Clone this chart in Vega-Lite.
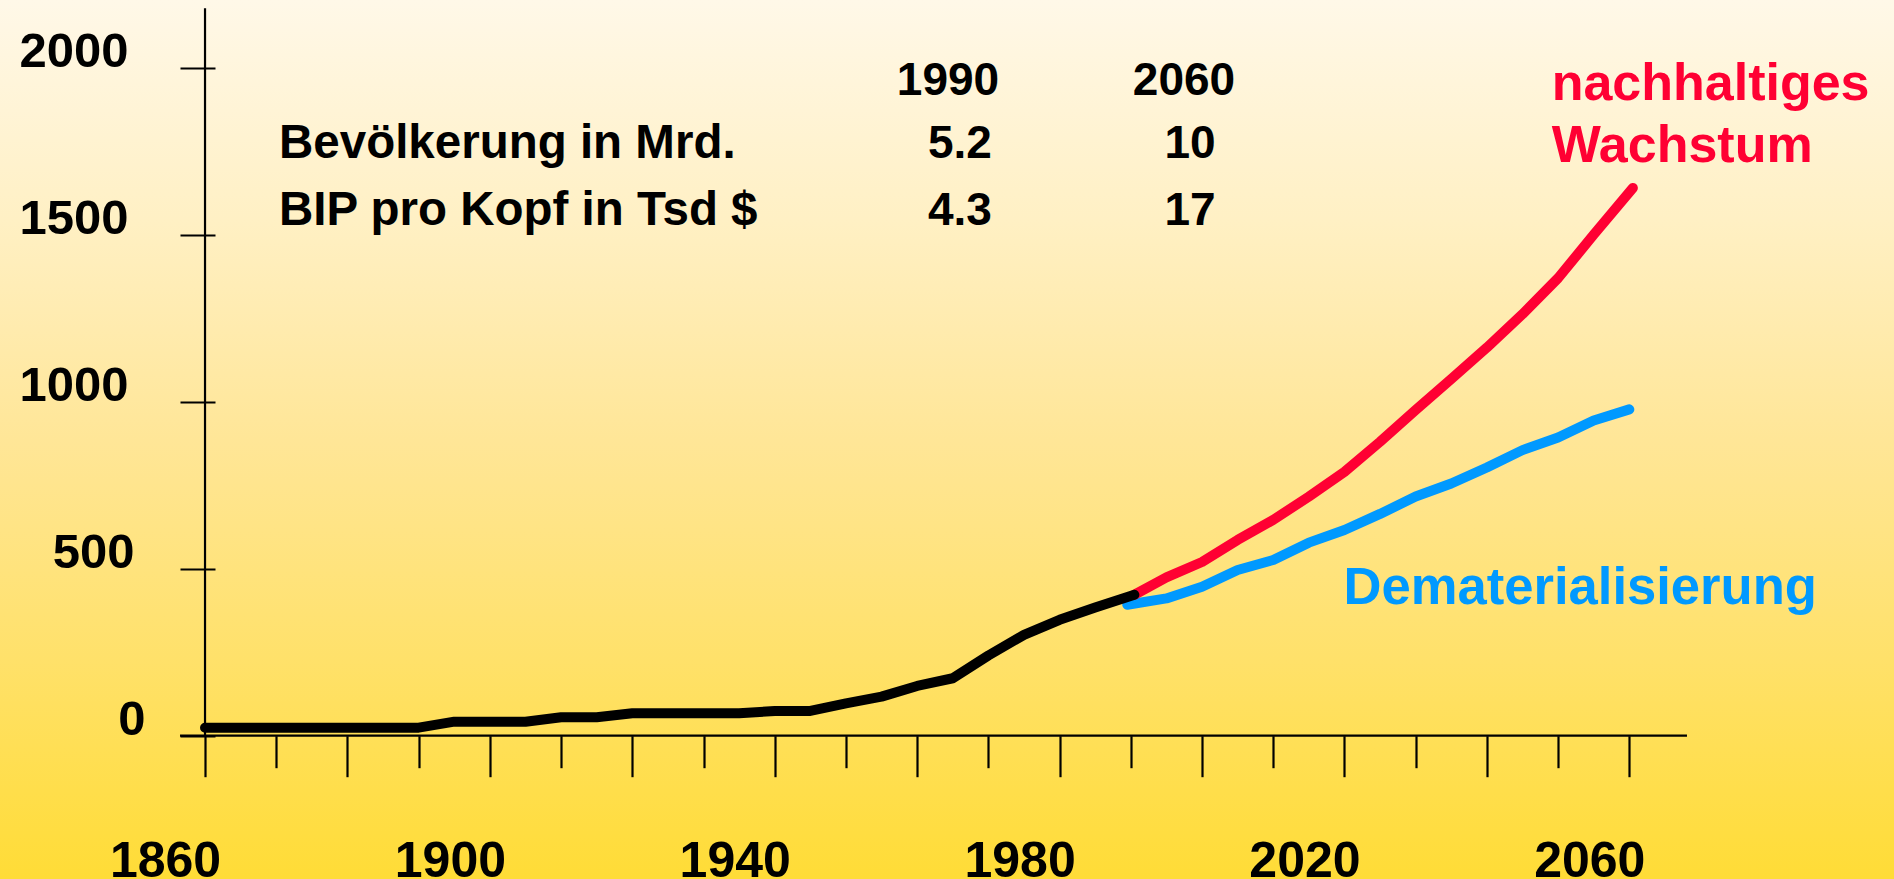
{
  "$schema": "https://vega.github.io/schema/vega-lite/v6.json",
  "width": 1894,
  "height": 879,
  "padding": 0,
  "autosize": {"type": "none"},
  "background": "#FFE89A",
  "config": {"view": {"stroke": null}, "font": "Liberation Sans"},
  "datasets": {
    "one": [{}],
    "series": [
      {"series": "historisch", "year": 1860, "value": 24},
      {"series": "historisch", "year": 1890, "value": 24},
      {"series": "historisch", "year": 1895, "value": 42},
      {"series": "historisch", "year": 1905, "value": 42},
      {"series": "historisch", "year": 1910, "value": 55},
      {"series": "historisch", "year": 1915, "value": 55},
      {"series": "historisch", "year": 1920, "value": 67},
      {"series": "historisch", "year": 1935, "value": 67},
      {"series": "historisch", "year": 1940, "value": 74},
      {"series": "historisch", "year": 1945, "value": 74},
      {"series": "historisch", "year": 1950, "value": 97},
      {"series": "historisch", "year": 1955, "value": 117},
      {"series": "historisch", "year": 1960, "value": 149},
      {"series": "historisch", "year": 1965, "value": 172},
      {"series": "historisch", "year": 1970, "value": 240},
      {"series": "historisch", "year": 1975, "value": 302},
      {"series": "historisch", "year": 1980, "value": 347},
      {"series": "historisch", "year": 1985, "value": 384},
      {"series": "historisch", "year": 1990.5, "value": 422},
      {"series": "nachhaltiges Wachstum", "year": 1990.5, "value": 422},
      {"series": "nachhaltiges Wachstum", "year": 1995, "value": 474},
      {"series": "nachhaltiges Wachstum", "year": 2000, "value": 520},
      {"series": "nachhaltiges Wachstum", "year": 2005, "value": 586},
      {"series": "nachhaltiges Wachstum", "year": 2010, "value": 646},
      {"series": "nachhaltiges Wachstum", "year": 2015, "value": 716},
      {"series": "nachhaltiges Wachstum", "year": 2020, "value": 790},
      {"series": "nachhaltiges Wachstum", "year": 2025, "value": 880},
      {"series": "nachhaltiges Wachstum", "year": 2030, "value": 975},
      {"series": "nachhaltiges Wachstum", "year": 2035, "value": 1068},
      {"series": "nachhaltiges Wachstum", "year": 2040, "value": 1162},
      {"series": "nachhaltiges Wachstum", "year": 2045, "value": 1262},
      {"series": "nachhaltiges Wachstum", "year": 2050, "value": 1370},
      {"series": "nachhaltiges Wachstum", "year": 2055, "value": 1500},
      {"series": "nachhaltiges Wachstum", "year": 2060.5, "value": 1640},
      {"series": "Dematerialisierung", "year": 1989.5, "value": 392},
      {"series": "Dematerialisierung", "year": 1995, "value": 411},
      {"series": "Dematerialisierung", "year": 2000, "value": 446},
      {"series": "Dematerialisierung", "year": 2005, "value": 496},
      {"series": "Dematerialisierung", "year": 2010, "value": 526},
      {"series": "Dematerialisierung", "year": 2015, "value": 578},
      {"series": "Dematerialisierung", "year": 2020, "value": 616},
      {"series": "Dematerialisierung", "year": 2025, "value": 664},
      {"series": "Dematerialisierung", "year": 2030, "value": 716},
      {"series": "Dematerialisierung", "year": 2035, "value": 755},
      {"series": "Dematerialisierung", "year": 2040, "value": 803},
      {"series": "Dematerialisierung", "year": 2045, "value": 855},
      {"series": "Dematerialisierung", "year": 2050, "value": 893},
      {"series": "Dematerialisierung", "year": 2055, "value": 944},
      {"series": "Dematerialisierung", "year": 2060, "value": 977}
    ]
  },
  "layer": [
    {
      "data": {"name": "one"},
      "mark": {
        "type": "rect",
        "fill": {
          "gradient": "linear", "x1": 0, "y1": 0, "x2": 0, "y2": 1,
          "stops": [
            {"offset": 0, "color": "#FFF8E8"},
            {"offset": 0.25, "color": "#FFF0C4"},
            {"offset": 0.5, "color": "#FFE697"},
            {"offset": 0.75, "color": "#FFE16A"},
            {"offset": 1, "color": "#FFDC36"}
          ]
        }
      }
    },
    {
      "data": {"name": "series"},
      "transform": [{"filter": "datum.series == 'Dematerialisierung'"}],
      "mark": {"type": "line", "color": "#0099FF", "strokeWidth": 10, "strokeCap": "round", "strokeJoin": "round"},
      "encoding": {
        "x": {
          "field": "year", "type": "quantitative", "title": null,
          "scale": {"domain": [1831.21, 2097.17], "nice": false, "zero": false},
          "axis": {
            "orient": "bottom", "offset": -143.3, "domain": false, "grid": false, "title": null, "zindex": 2,
            "values": [1860, 1870, 1880, 1890, 1900, 1910, 1920, 1930, 1940, 1950, 1960, 1970, 1980, 1990, 2000, 2010, 2020, 2030, 2040, 2050, 2060],
            "format": "d",
            "labelExpr": "datum.value % 40 == 20 ? datum.label : ''",
            "tickSize": {"condition": {"test": "datum.value % 20 == 0", "value": 41}, "value": 32},
            "tickColor": "black", "tickWidth": 2.2,
            "labelFont": "Liberation Sans", "labelFontWeight": "bold", "labelFontSize": 50, "labelColor": "black",
            "labelOffset": -40, "labelBaseline": "alphabetic", "labelPadding": 100,
            "labelOverlap": false, "labelFlush": false, "labelBound": false
          }
        },
        "y": {
          "field": "value", "type": "quantitative", "title": null,
          "scale": {"domain": [-429.04, 2202.69], "nice": false, "zero": false},
          "axis": {
            "orient": "left", "offset": -215, "domain": false, "grid": false, "title": null, "zindex": 2,
            "values": [0, 500, 1000, 1500, 2000],
            "format": "d",
            "tickSize": 35, "tickColor": "black", "tickWidth": 2.2,
            "labelFont": "Liberation Sans", "labelFontWeight": "bold", "labelFontSize": 49, "labelColor": "black",
            "labelAlign": "right", "labelBaseline": "alphabetic", "labelOffset": -1.5,
            "labelPadding": {"condition": [{"test": "datum.value == 0", "value": 35}, {"test": "datum.value == 500", "value": 46}], "value": 52},
            "labelOverlap": false, "labelFlush": false, "labelBound": false
          }
        }
      }
    },
    {
      "data": {"name": "series"},
      "transform": [{"filter": "datum.series == 'nachhaltiges Wachstum'"}],
      "mark": {"type": "line", "color": "#FF0033", "strokeWidth": 10, "strokeCap": "round", "strokeJoin": "round"},
      "encoding": {
        "x": {"field": "year", "type": "quantitative", "title": null},
        "y": {"field": "value", "type": "quantitative", "title": null}
      }
    },
    {
      "data": {"name": "series"},
      "transform": [{"filter": "datum.series == 'historisch'"}],
      "mark": {"type": "line", "color": "black", "strokeWidth": 10, "strokeCap": "round", "strokeJoin": "round"},
      "encoding": {
        "x": {"field": "year", "type": "quantitative", "title": null},
        "y": {"field": "value", "type": "quantitative", "title": null}
      }
    },
    {
      "data": {"name": "one"},
      "mark": {"type": "rule", "color": "black", "strokeWidth": 2.2},
      "encoding": {
        "x": {"datum": 1860, "type": "quantitative", "title": null},
        "y": {"datum": 0, "type": "quantitative", "title": null},
        "y2": {"datum": 2178}
      }
    },
    {
      "data": {"name": "one"},
      "mark": {"type": "rule", "color": "black", "strokeWidth": 2.2},
      "encoding": {
        "x": {"datum": 1856.49, "type": "quantitative", "title": null},
        "x2": {"datum": 2068.1},
        "y": {"datum": 0, "type": "quantitative", "title": null}
      }
    },
    {
      "data": {"name": "one"},
      "mark": {"type": "text", "text": "1990", "font": "Liberation Sans", "fontWeight": "bold", "fontSize": 46, "align": "center", "baseline": "alphabetic", "color": "black"},
      "encoding": {"x": {"datum": 1964.33, "type": "quantitative", "title": null}, "y": {"datum": 1918.3, "type": "quantitative", "title": null}}
    },
    {
      "data": {"name": "one"},
      "mark": {"type": "text", "text": "2060", "font": "Liberation Sans", "fontWeight": "bold", "fontSize": 46, "align": "center", "baseline": "alphabetic", "color": "black"},
      "encoding": {"x": {"datum": 1997.47, "type": "quantitative", "title": null}, "y": {"datum": 1918.3, "type": "quantitative", "title": null}}
    },
    {
      "data": {"name": "one"},
      "mark": {"type": "text", "text": "5.2", "font": "Liberation Sans", "fontWeight": "bold", "fontSize": 46, "align": "center", "baseline": "alphabetic", "color": "black"},
      "encoding": {"x": {"datum": 1966.0, "type": "quantitative", "title": null}, "y": {"datum": 1728.7, "type": "quantitative", "title": null}}
    },
    {
      "data": {"name": "one"},
      "mark": {"type": "text", "text": "10", "font": "Liberation Sans", "fontWeight": "bold", "fontSize": 46, "align": "center", "baseline": "alphabetic", "color": "black"},
      "encoding": {"x": {"datum": 1998.31, "type": "quantitative", "title": null}, "y": {"datum": 1728.7, "type": "quantitative", "title": null}}
    },
    {
      "data": {"name": "one"},
      "mark": {"type": "text", "text": "4.3", "font": "Liberation Sans", "fontWeight": "bold", "fontSize": 46, "align": "center", "baseline": "alphabetic", "color": "black"},
      "encoding": {"x": {"datum": 1966.0, "type": "quantitative", "title": null}, "y": {"datum": 1529.0, "type": "quantitative", "title": null}}
    },
    {
      "data": {"name": "one"},
      "mark": {"type": "text", "text": "17", "font": "Liberation Sans", "fontWeight": "bold", "fontSize": 46, "align": "center", "baseline": "alphabetic", "color": "black"},
      "encoding": {"x": {"datum": 1998.31, "type": "quantitative", "title": null}, "y": {"datum": 1529.0, "type": "quantitative", "title": null}}
    },
    {
      "data": {"name": "one"},
      "mark": {"type": "text", "text": "Bevölkerung in Mrd.", "font": "Liberation Sans", "fontWeight": "bold", "fontSize": 47.5, "align": "left", "baseline": "alphabetic", "color": "black"},
      "encoding": {"x": {"datum": 1870.39, "type": "quantitative", "title": null}, "y": {"datum": 1728.7, "type": "quantitative", "title": null}}
    },
    {
      "data": {"name": "one"},
      "mark": {"type": "text", "text": "BIP pro Kopf in Tsd $", "font": "Liberation Sans", "fontWeight": "bold", "fontSize": 47.5, "align": "left", "baseline": "alphabetic", "color": "black"},
      "encoding": {"x": {"datum": 1870.39, "type": "quantitative", "title": null}, "y": {"datum": 1529.0, "type": "quantitative", "title": null}}
    },
    {
      "data": {"name": "one"},
      "mark": {"type": "text", "text": "nachhaltiges", "font": "Liberation Sans", "fontWeight": "bold", "fontSize": 52, "align": "left", "baseline": "alphabetic", "color": "#FF0033"},
      "encoding": {"x": {"datum": 2049.1, "type": "quantitative", "title": null}, "y": {"datum": 1903.3, "type": "quantitative", "title": null}}
    },
    {
      "data": {"name": "one"},
      "mark": {"type": "text", "text": "Wachstum", "font": "Liberation Sans", "fontWeight": "bold", "fontSize": 52, "align": "left", "baseline": "alphabetic", "color": "#FF0033"},
      "encoding": {"x": {"datum": 2049.1, "type": "quantitative", "title": null}, "y": {"datum": 1718.6, "type": "quantitative", "title": null}}
    },
    {
      "data": {"name": "one"},
      "mark": {"type": "text", "text": "Dematerialisierung", "font": "Liberation Sans", "fontWeight": "bold", "fontSize": 52.6, "align": "left", "baseline": "alphabetic", "color": "#0099FF"},
      "encoding": {"x": {"datum": 2019.86, "type": "quantitative", "title": null}, "y": {"datum": 394.3, "type": "quantitative", "title": null}}
    }
  ]
}
